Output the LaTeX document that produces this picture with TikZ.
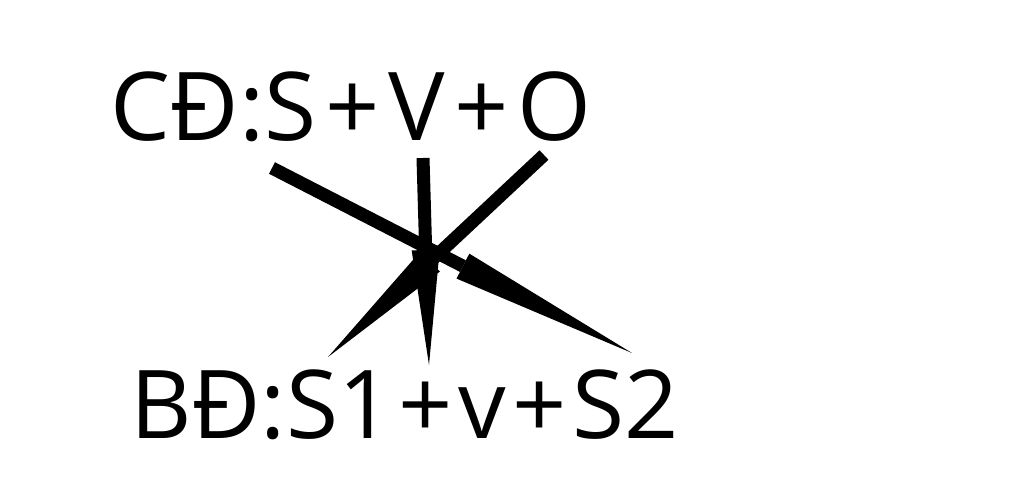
\documentclass[tikz,border=0pt]{standalone}
\usepackage{fontspec}
\setmainfont{Open Sans}
\usetikzlibrary{arrows.meta}

\newcommand{\pls}[1][0.09cm]{\kern#1+\kern#1}
\tikzset{
  word/.style={anchor=base west, inner sep=0pt, font=\fontsize{27}{32}\selectfont},
  wedge/.style={line width=0.13cm, -{Triangle[length=#1, width=0.28cm, line width=0pt]}}
}

\begin{document}
\begin{tikzpicture}[x=0.01cm, y=-0.01cm]
\useasboundingbox (0,0) rectangle (1024,503);
\node[word] (cd) at (110,140) {CĐ:S\pls V\pls O};
\node[word] (bd) at (130,438) {BĐ:S1\pls[0.06cm]v\pls[0.06cm]S2};
% ends of the arrows
\coordinate (sTop) at (272,168);
\coordinate (vTop) at (423,158);
\coordinate (oTop) at (544,155);
\coordinate (sTwo) at (632,353);
\coordinate (vLow) at (429,365);
\coordinate (sOne) at (328,357);
\draw[wedge=1.9cm] (sTop) -- (sTwo);
\draw[wedge=1.15cm] (vTop) -- (vLow);
\draw[wedge=1.4cm] (oTop) -- (sOne);
\end{tikzpicture}
\end{document}
